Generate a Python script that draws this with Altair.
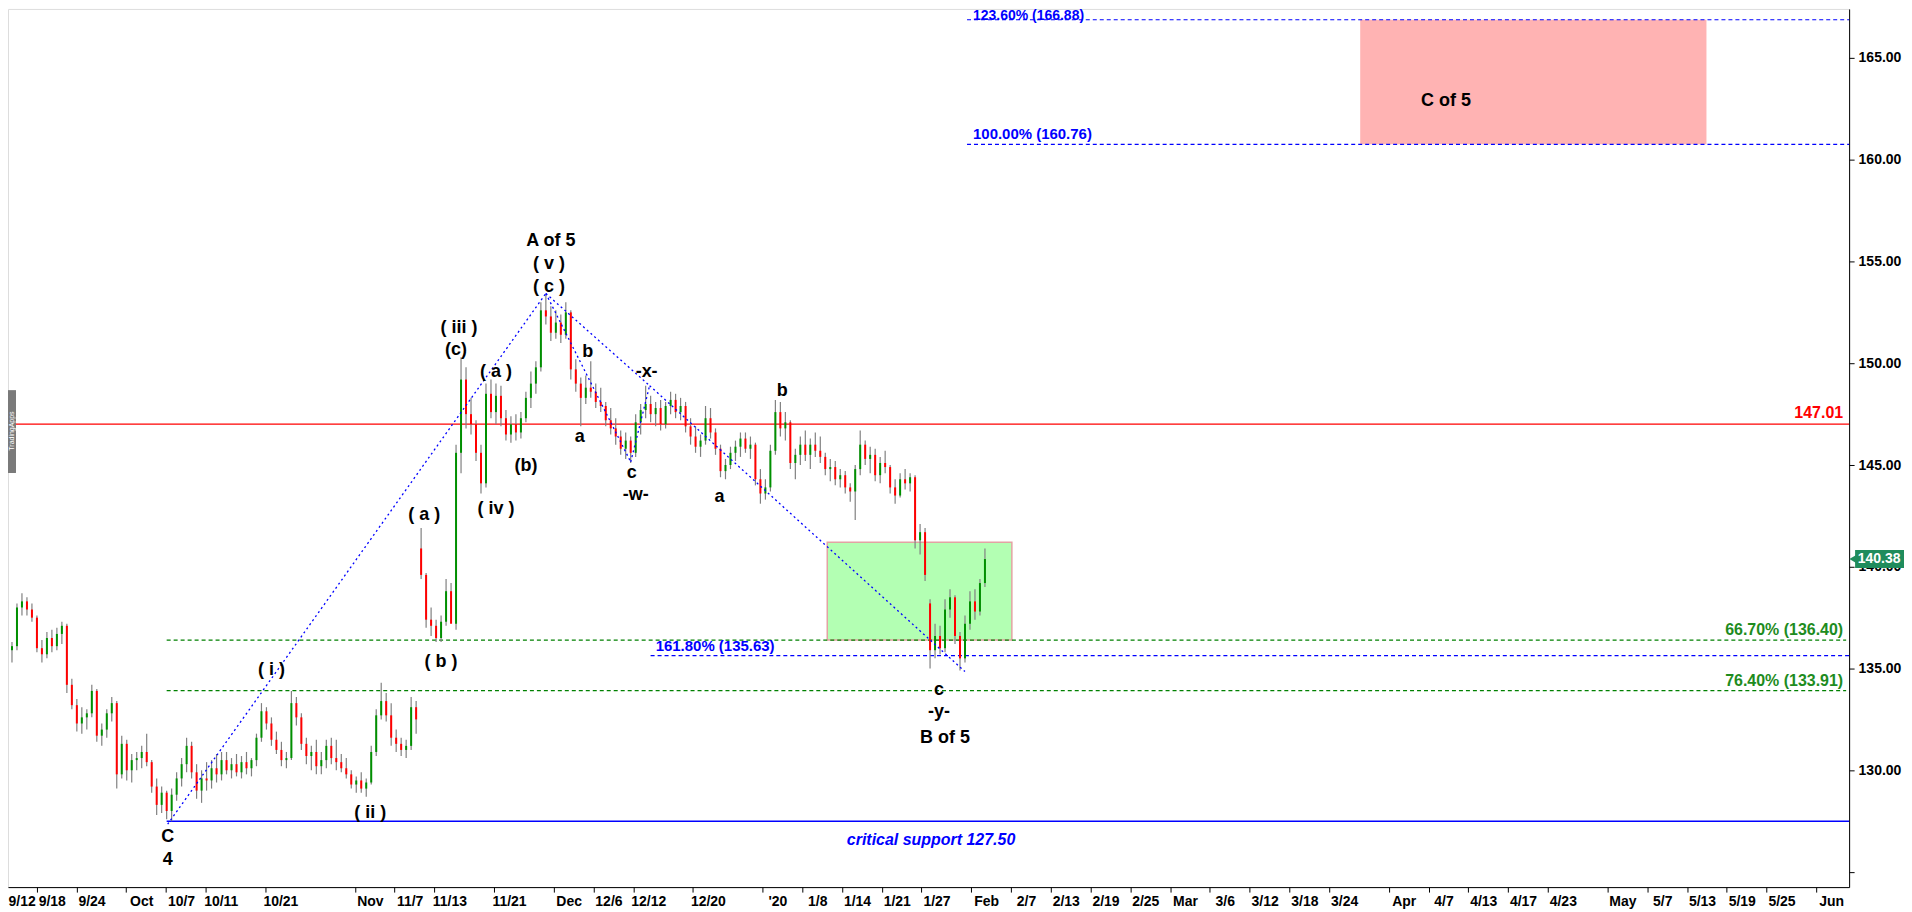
import json
import altair as alt
import pandas as pd

# ---------------- candle data (two bars per trading day, oldest first) ----------------
opens = [135.2,135.6,135.9,136.1,138.0,138.3,137.9,137.5,136.0,135.7,136.5,136.1,136.7,137.1,134.2,133.2,132.3,132.6,132.8,133.9,
         131.7,132.0,132.8,133.3,129.8,131.3,130.0,130.5,130.6,130.9,130.4,129.2,128.3,128.9,128.0,128.8,129.6,130.3,131.2,129.9,
         129.0,129.6,129.5,130.1,129.8,130.5,130.0,130.3,129.9,130.4,130.1,130.5,131.6,132.9,132.3,131.5,131.0,130.5,130.6,133.3,
         132.6,131.3,130.7,130.9,130.2,130.5,131.2,130.6,130.4,130.1,129.8,129.3,129.5,129.1,129.4,130.9,132.7,133.4,132.7,131.6,
         131.3,131.0,131.2,133.1,140.9,139.6,137.4,137.1,136.5,137.3,138.8,137.2,145.6,149.2,147.5,147.0,145.6,144.1,148.5,147.6,
         148.4,147.3,146.5,147.0,146.6,147.3,148.3,149.0,149.8,152.6,152.3,151.5,152.0,151.4,152.5,149.7,149.0,148.3,148.8,148.6,
         148.1,147.9,147.2,146.8,146.4,145.8,146.2,145.6,147.1,147.7,148.0,147.5,147.8,147.0,147.9,148.2,147.6,147.9,146.9,146.4,
         145.9,146.2,147.3,146.6,145.8,144.7,145.0,145.6,145.9,146.3,145.8,146.0,144.3,143.6,143.9,145.7,147.6,146.8,147.1,145.1,
         145.5,146.0,145.5,146.0,145.7,145.4,144.8,144.9,144.3,144.5,143.9,143.7,144.8,146.0,145.3,145.5,144.5,145.1,144.9,143.9,
         143.5,144.3,144.1,144.4,141.3,141.7,138.2,135.9,136.6,136.0,137.9,138.5,136.6,135.5,137.2,138.3,137.8,139.2]
highs = [135.9,136.2,136.3,138.2,138.7,138.5,138.2,137.6,136.4,136.8,136.9,137.0,137.3,137.2,134.5,133.5,133.1,133.0,134.2,134.0,
         132.3,133.0,133.6,133.4,131.7,131.5,130.8,130.9,131.2,131.8,130.5,129.6,129.2,129.0,129.1,129.9,130.6,131.6,131.4,130.3,
         130.0,130.4,130.5,130.8,130.9,130.9,130.6,130.8,130.7,130.9,130.6,131.8,133.3,133.1,132.6,131.9,131.4,130.9,133.9,133.6,
         132.8,131.6,131.2,131.5,130.9,131.5,131.6,131.5,130.8,130.6,130.0,129.7,129.9,129.6,131.2,133.0,134.3,133.8,133.3,132.0,
         131.6,131.5,133.6,133.4,141.9,139.7,138.0,137.4,137.6,139.4,139.2,146.0,150.3,149.8,148.3,147.2,146.0,149.0,149.2,149.0,
         148.9,147.7,147.4,147.5,147.6,148.6,149.6,150.1,153.0,153.4,152.8,152.6,152.4,153.0,152.6,150.2,149.3,149.4,150.1,149.0,
         148.8,148.1,147.8,147.3,146.7,146.6,146.4,147.5,148.0,148.9,148.4,148.1,148.2,148.1,148.6,148.5,148.3,148.1,147.3,146.9,
         146.5,147.9,147.8,146.8,146.0,145.3,145.9,146.2,146.6,146.6,146.4,146.1,144.8,144.3,146.0,148.2,148.1,147.6,147.2,145.8,
         146.4,146.7,146.3,146.6,146.4,145.6,145.3,145.2,144.8,144.7,144.1,145.0,146.7,146.2,145.9,145.8,145.4,145.7,145.0,144.3,
         144.6,144.8,144.6,144.5,142.1,141.9,138.4,137.2,137.1,138.4,138.9,138.6,136.8,137.6,138.8,138.9,139.4,140.9]
lows = [134.8,135.1,135.3,135.9,137.6,137.6,137.3,135.8,135.3,135.5,135.8,135.9,136.2,133.8,133.0,131.9,131.8,132.0,132.6,131.4,
        131.2,131.6,132.4,129.1,129.6,129.5,129.4,130.0,130.1,130.2,128.9,127.8,127.9,127.6,127.5,128.5,129.2,129.9,129.6,128.6,
        128.4,129.0,129.1,129.4,129.5,129.8,129.6,129.7,129.6,129.8,129.7,130.2,131.4,132.0,131.2,130.8,130.2,130.1,130.5,132.2,
        131.0,130.3,130.0,129.8,129.8,130.1,130.3,130.0,129.9,129.6,129.1,128.9,128.9,128.7,129.3,130.7,132.5,132.4,131.2,130.9,
        130.7,130.6,131.0,131.8,139.4,137.0,136.6,136.3,136.3,137.1,137.9,136.9,144.6,146.8,146.5,145.2,143.6,143.9,147.3,147.0,
        146.9,146.2,146.1,146.2,146.3,147.1,147.8,148.5,149.6,151.9,151.1,151.2,151.0,151.2,149.2,148.6,146.9,148.0,148.3,147.8,
        147.6,146.9,146.5,146.0,145.5,145.3,145.1,145.4,146.5,147.3,147.1,146.9,146.7,146.8,147.5,147.3,147.2,146.6,146.0,145.6,
        145.4,146.0,146.3,145.5,144.4,144.3,144.8,145.2,145.4,145.6,145.3,144.0,143.1,143.3,143.7,145.5,146.4,146.2,144.8,144.3,
        145.0,145.2,144.8,145.4,145.1,144.5,144.2,144.0,143.9,143.6,143.2,142.3,144.5,145.0,144.6,144.2,144.1,144.6,143.6,143.1,
        143.4,143.8,143.7,140.9,140.6,139.3,135.0,135.5,135.7,135.8,137.5,136.2,134.9,135.3,136.9,137.4,137.6,139.0]
closes = [135.6,135.9,136.1,138.0,138.3,137.9,137.5,136.0,135.7,136.5,136.1,136.7,137.1,134.2,133.2,132.3,132.6,132.8,133.9,131.7,
          132.0,132.8,133.3,129.8,131.3,130.0,130.5,130.6,130.9,130.4,129.2,128.3,128.9,128.0,128.8,129.6,130.3,131.2,129.9,129.0,
          129.6,129.5,130.1,129.8,130.5,130.0,130.3,129.9,130.4,130.1,130.5,131.6,132.9,132.3,131.5,131.0,130.5,130.6,133.3,132.6,
          131.3,130.7,130.9,130.2,130.5,131.2,130.6,130.4,130.1,129.8,129.3,129.5,129.1,129.4,130.9,132.7,133.4,132.7,131.6,131.3,
          131.0,131.2,133.1,132.5,139.6,137.4,137.1,136.5,137.3,138.8,137.2,145.6,149.2,147.5,147.0,145.6,144.1,148.5,147.6,148.4,
          147.3,146.5,147.0,146.6,147.3,148.3,149.0,149.8,152.6,152.3,151.5,152.0,151.4,152.5,149.7,149.0,148.3,148.8,148.6,148.1,
          147.9,147.2,146.8,146.4,145.8,146.2,145.6,147.1,147.7,148.0,147.5,147.8,147.0,147.9,148.2,147.6,147.9,146.9,146.4,145.9,
          146.2,147.3,146.6,145.8,144.7,145.0,145.6,145.9,146.3,145.8,146.0,144.3,143.6,143.9,145.7,147.6,146.8,147.1,145.1,145.5,
          146.0,145.5,146.0,145.7,145.4,144.8,144.9,144.3,144.5,143.9,143.7,144.8,146.0,145.3,145.5,144.5,145.1,144.9,143.9,143.5,
          144.3,144.1,144.4,141.3,141.7,139.6,135.9,136.6,136.0,137.9,138.5,136.6,135.5,137.2,138.3,137.8,139.2,140.38]

# ---------------- x axis: trading-day index of each date label ----------------
tick_days = [0, 4, 8, 13, 17, 21, 27, 36, 40, 44, 50, 56, 60, 64, 70, 77, 81, 85, 89, 93,
             98, 102, 106, 110, 114, 118, 122, 126, 130, 134, 140, 144, 148, 152, 156, 162, 166, 170, 174, 178, 183]
tick_labels = ["9/12", "9/18", "9/24", "Oct", "10/7", "10/11", "10/21", "Nov", "11/7", "11/13", "11/21", "Dec",
               "12/6", "12/12", "12/20", "'20", "1/8", "1/14", "1/21", "1/27", "Feb", "2/7", "2/13", "2/19", "2/25",
               "Mar", "3/6", "3/12", "3/18", "3/24", "Apr", "4/7", "4/13", "4/17", "4/23", "May", "5/7", "5/13",
               "5/19", "5/25", "Jun"]
y_ticks = [125, 130, 135, 140, 145, 150, 155, 160, 165]

# ---------------- levels ----------------
red_level = [147.01]
support_level = [127.50]
green_fib = [136.40, 133.91]
green_fib_text = ["66.70% (136.40)", "76.40% (133.91)"]
blue_fib = [135.63, 160.76, 166.88]
blue_fib_text = ["161.80% (135.63)", "100.00% (160.76)", "123.60% (166.88)"]
blue_fib_start = [64.24, 96.07, 96.07]
blue_text_start = [64.75, 96.67, 96.67]
level_start = 15.56          # day index where the C-4 projections begin
last_price = [140.38]

# ---------------- zones ----------------
green_zone = {"x": [82.01], "x2": [100.58], "y": [136.40], "y2": [141.2]}
pink_zone = {"x": [135.62], "x2": [170.45], "y": [160.76], "y2": [166.88]}

# ---------------- wave connecting lines (pivot -> pivot) ----------------
seg_x = [15.66, 53.70, 62.24, 53.70, 64.14]
seg_y = [127.35, 153.43, 145.15, 153.43, 148.90]
seg_x2 = [53.70, 62.24, 64.14, 64.14, 95.86]
seg_y2 = [153.43, 145.15, 148.90, 148.90, 134.85]

# ---------------- Elliott wave labels ----------------
ew_text = ["( i )", "( ii )", "C", "4", "( a )", "( b )", "( iii )", "(c)", "( a )", "( iv )", "(b)",
           "A of 5", "( v )", "( c )", "b", "a", "c", "-w-", "-x-", "a", "b", "c", "-y-", "B of 5"]
ew_x = [26.10, 36.04, 15.66, 15.66, 41.46, 43.16, 44.97, 44.67, 48.68, 48.68, 51.70,
        54.21, 54.01, 54.01, 57.92, 57.12, 62.34, 62.74, 63.84, 71.17, 77.49, 93.25, 93.25, 93.86]
ew_y = [134.91, 127.89, 126.71, 125.58, 142.52, 135.30, 151.75, 150.67, 149.59, 142.86, 144.97,
        156.02, 154.89, 153.76, 150.57, 146.40, 144.63, 143.55, 149.59, 143.45, 148.65, 133.93, 132.85, 131.57]

# ---------------- build tables ----------------
nb = len(closes)
candles = pd.DataFrame({
    "b": list(range(nb)), "open": opens, "high": highs, "low": lows, "close": closes,
})
candles["x"] = (5 * candles["b"] - 10) / 9.962
candles["dir"] = ["up" if c >= o else "down" for o, c in zip(opens, closes)]

X_MIN, X_MAX = -0.40, 184.80
Y_MIN, Y_MAX = 124.26, 167.41
FONT = "Liberation Sans"

xscale = alt.Scale(domain=[X_MIN, X_MAX], nice=False, zero=False)
yscale = alt.Scale(domain=[Y_MIN, Y_MAX], nice=False, zero=False)

x_label_expr = f"{json.dumps(tick_labels)}[indexof({json.dumps(tick_days)}, datum.value)]"
xaxis = alt.Axis(values=tick_days, labelExpr=x_label_expr, title=None, grid=False, orient="bottom",
                 domainColor="black", tickColor="black", tickSize=5, tickOffset=-15,
                 labelOffset={"condition": {"test": "datum.value == 0", "value": 11}, "value": 15},
                 labelAlign={"condition": {"test": "datum.value == 0", "value": "left"}, "value": "center"},
                 labelFont=FONT, labelFontSize=14, labelFontWeight="bold", labelColor="black",
                 labelPadding=2, labelOverlap=False, labelFlush=False)
yaxis = alt.Axis(values=y_ticks, labelExpr="datum.value < 127 ? '' : format(datum.value, '.2f')",
                 title=None, grid=False, orient="right", domainColor="black", tickColor="black",
                 tickSize=5, labelFont=FONT, labelFontSize=14, labelFontWeight="bold",
                 labelColor="black", labelPadding=4, labelOverlap=False, labelFlush=False)


def X(f):
    return alt.X(f, type="quantitative", scale=xscale, axis=xaxis)


def Y(f):
    return alt.Y(f, type="quantitative", scale=yscale, axis=yaxis)


layers = []

# zones
layers.append(alt.Chart(pd.DataFrame(pink_zone)).mark_rect(color="#ffb3b3").encode(
    x=X("x"), x2="x2", y=Y("y"), y2="y2"))
layers.append(alt.Chart(pd.DataFrame(green_zone)).mark_rect(
    fill="#b3ffb3", stroke="#e3a3a3", strokeWidth=1.5).encode(x=X("x"), x2="x2", y=Y("y"), y2="y2"))

# level lines
layers.append(alt.Chart(pd.DataFrame({"y": red_level, "x": [X_MIN], "x2": [X_MAX]})).mark_rule(
    color="#ff0000", strokeWidth=1.2).encode(x=X("x"), x2="x2", y=Y("y")))
layers.append(alt.Chart(pd.DataFrame({"y": support_level, "x": [level_start], "x2": [X_MAX]})).mark_rule(
    color="#0000ff", strokeWidth=1.5).encode(x=X("x"), x2="x2", y=Y("y")))
layers.append(alt.Chart(pd.DataFrame({"y": green_fib, "x": [level_start] * 2, "x2": [184.5] * 2})).mark_rule(
    color="#008000", strokeWidth=1.2, strokeDash=[4, 3]).encode(x=X("x"), x2="x2", y=Y("y")))
layers.append(alt.Chart(pd.DataFrame({"y": blue_fib, "x": blue_fib_start, "x2": [X_MAX] * 3})).mark_rule(
    color="#0000ff", strokeWidth=1.2, strokeDash=[4, 3]).encode(x=X("x"), x2="x2", y=Y("y")))

# candles
cbase = alt.Chart(candles)
layers.append(cbase.mark_rule(color="#808080", strokeWidth=1.2).encode(x=X("x"), y=Y("low"), y2="high"))
layers.append(cbase.mark_rule(strokeWidth=2).encode(
    x=X("x"), y=Y("open"), y2="close",
    color=alt.Color("dir:N", scale=alt.Scale(domain=["up", "down"], range=["#009000", "#ff0000"]), legend=None)))

# wave lines
layers.append(alt.Chart(pd.DataFrame({"x": seg_x, "y": seg_y, "x2": seg_x2, "y2": seg_y2})).mark_rule(
    color="#0000ff", strokeWidth=1.3, strokeDash=[2, 3]).encode(x=X("x"), y=Y("y"), x2="x2", y2="y2"))

# Elliott labels
layers.append(alt.Chart(pd.DataFrame({"t": ew_text, "x": ew_x, "y": ew_y})).mark_text(
    font=FONT, fontSize=18, fontWeight="bold", color="black", baseline="middle", align="center").encode(
    x=X("x"), y=Y("y"), text="t:N"))
layers.append(alt.Chart(pd.DataFrame({"t": ["C of 5"], "x": [144.25], "y": [162.89]})).mark_text(
    font=FONT, fontSize=18, fontWeight="bold", color="black", baseline="middle", align="center").encode(
    x=X("x"), y=Y("y"), text="t:N"))
layers.append(alt.Chart(pd.DataFrame({"t": ["critical support 127.50"], "x": [92.45], "y": [126.56]})).mark_text(
    font=FONT, fontSize=16, fontWeight="bold", fontStyle="italic", color="#0000ff",
    baseline="middle", align="center").encode(x=X("x"), y=Y("y"), text="t:N"))

# level labels
layers.append(alt.Chart(pd.DataFrame({"t": ["147.01"], "x": [184.2], "y": red_level})).mark_text(
    font=FONT, fontSize=16, fontWeight="bold", color="#ff0000", align="right", baseline="alphabetic", dy=-6).encode(
    x=X("x"), y=Y("y"), text="t:N"))
layers.append(alt.Chart(pd.DataFrame({"t": green_fib_text, "x": [184.2] * 2, "y": green_fib})).mark_text(
    font=FONT, fontSize=16, fontWeight="bold", color="#1e8c1e", align="right", baseline="alphabetic", dy=-5).encode(
    x=X("x"), y=Y("y"), text="t:N"))
layers.append(alt.Chart(pd.DataFrame({"t": blue_fib_text[:2], "x": blue_text_start[:2], "y": blue_fib[:2]})).mark_text(
    font=FONT, fontSize=15, fontWeight="bold", color="#0000ff", align="left", baseline="alphabetic", dy=-5).encode(
    x=X("x"), y=Y("y"), text="t:N"))
layers.append(alt.Chart(pd.DataFrame({"t": blue_fib_text[2:], "x": blue_text_start[2:], "y": blue_fib[2:]})).mark_text(
    font=FONT, fontSize=14, fontWeight="bold", color="#0000ff", align="left", baseline="alphabetic", dy=0).encode(
    x=X("x"), y=Y("y"), text="t:N"))

# last price tag on the axis
tag = pd.DataFrame({"y": last_price, "t": [f"{v:.2f}" for v in last_price]})
layers.append(alt.Chart(tag).mark_rule(color="#1f8c5c", strokeWidth=18).encode(
    x=alt.value(1851), x2=alt.value(1900), y=Y("y")))
layers.append(alt.Chart(tag).mark_point(shape="triangle-left", filled=True, size=120, color="#1f8c5c", opacity=1).encode(
    x=alt.value(1850), y=Y("y")))
layers.append(alt.Chart(tag).mark_text(font=FONT, fontSize=14, fontWeight="bold", color="white", align="center",
                                       baseline="middle").encode(x=alt.value(1875), y=Y("y"), text="t:N"))

# watermark strip at the left edge
wm = pd.DataFrame({"t": ["TradingApps"]})
layers.append(alt.Chart(wm).mark_rect(color="#7a7a7a").encode(
    x=alt.value(0), x2=alt.value(8), y=alt.value(382), y2=alt.value(465)))
layers.append(alt.Chart(wm).mark_text(font=FONT, fontSize=7, color="white", angle=270, baseline="middle",
                                      align="center").encode(x=alt.value(4), y=alt.value(423), text="t:N"))

chart = alt.layer(*layers).properties(
    width=1845, height=880,
    padding={"left": 0, "top": 0, "right": 55, "bottom": 24},
    autosize=alt.AutoSizeParams(type="none"),
).configure_view(stroke=None).configure(background="white")

chart.save("out.html", embed_options={"renderer": "svg", "actions": False})
